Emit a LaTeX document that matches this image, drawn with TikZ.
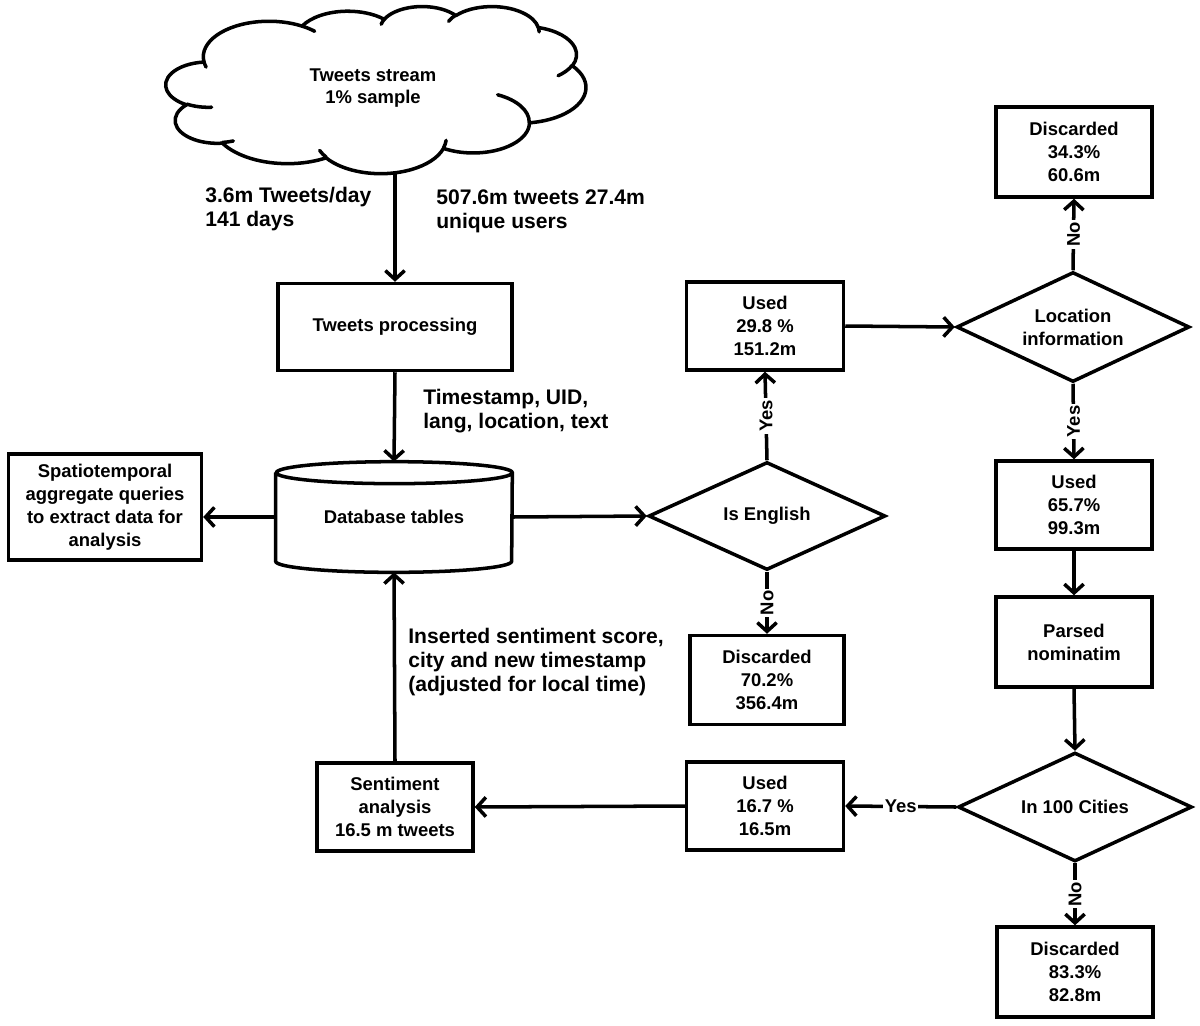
\documentclass[tikz,border=0pt]{standalone}
\usepackage{fontspec}
\setmainfont{Liberation Sans}
\usetikzlibrary{shapes.geometric,arrows.meta}
% convert a visual-angle elliptic arc (y down) into TikZ parametric angles (y up)
\newcommand\cprep[5]{%
  \pgfmathsetmacro\cta{atan2(#2*sin(#4),#3*cos(#4))}%
  \pgfmathsetmacro\ctb{atan2(#2*sin(#4+#5),#3*cos(#4+#5))}%
  \pgfmathsetmacro\ctd{\ctb-\cta}%
  \pgfmathsetmacro\ctd{\ctd<0 ? \ctd+360 : \ctd}%
  \pgfmathsetmacro\cta{-1*(\cta)}%
  \pgfmathsetmacro\ctd{-1*(\ctd)}%
  \expandafter\let\csname #1s\endcsname\cta
  \expandafter\let\csname #1d\endcsname\ctd}
\begin{document}
\begin{tikzpicture}[x=0.02cm,y=-0.02cm,
  box/.style={draw,line width=2pt,align=center,inner sep=1pt,font=\fontsize{10.5}{13}\bfseries\selectfont},
  dec/.style={draw,diamond,line width=2pt,inner sep=0pt},
  dectxt/.style={align=center,inner sep=0pt,font=\fontsize{10.5}{13}\bfseries\selectfont},
  lbl/.style={align=left,anchor=west,inner sep=0pt,font=\fontsize{12}{13.6}\bfseries\selectfont},
  yn/.style={fill=white,inner sep=1pt,font=\fontsize{10.5}{12}\bfseries\selectfont},
  conn/.style={line width=2pt},
  arr/.style={conn,-{Straight Barb[length=5pt,width=11pt,line width=2pt]}},
]
\useasboundingbox (0,0) rectangle (1200,1025);

% ---- cloud (outline + inner curls) ----
\cprep{oA}{67.53}{91.90}{-190.4875}{123.7805}
\cprep{oB}{53.33}{72.67}{-144.1024}{89.9452}
\cprep{oC}{43.65}{59.45}{-145.8079}{99.7230}
\cprep{oD}{48.57}{65.95}{-130.9861}{117.2417}
\cprep{oE}{53.33}{72.73}{-78.7089}{109.0269}
\cprep{oF}{67.75}{92.20}{-46.2673}{130.2690}
\cprep{oG}{57.85}{78.67}{0.6250}{114.0333}
\cprep{oH}{67.52}{92.15}{22.4516}{115.1726}
\cprep{oI}{77.20}{105.43}{66.2426}{75.7110}
\cprep{oJ}{43.60}{59.18}{-274.9421}{146.7356}
\cprep{oK}{43.45}{59.45}{-246.8285}{152.5189}
\cprep{kA}{43.45}{59.45}{86.742}{26.4295}
\cprep{kB}{43.60}{59.18}{73.6105}{11.4475}
\cprep{kC}{67.52}{92.15}{137.6242}{14.0811}
\cprep{kD}{67.52}{92.15}{6.4533}{15.9984}
\cprep{kE}{57.85}{78.67}{-70.2924}{70.9174}
\cprep{kF}{53.33}{72.73}{30.3180}{27.7515}
\cprep{kG}{48.57}{65.95}{-13.7443}{14.8589}
\cprep{kH}{48.57}{65.95}{-149.1815}{18.1954}
\cprep{kI}{43.65}{59.45}{-163.4943}{17.6864}
\cprep{kJ}{67.53}{91.90}{-66.7070}{12.3194}
\cprep{kK}{67.53}{91.90}{157.6544}{11.8582}
\begin{scope}[shift={(166,6)},x=0.019444cm,y=0.0077315cm,line width=2pt,line join=round,line cap=round]
  \draw (39.00,-143.70)
    arc[start angle=\oAs,delta angle=\oAd,x radius=67.53,y radius=91.90]
    arc[start angle=\oBs,delta angle=\oBd,x radius=53.33,y radius=72.67]
    arc[start angle=\oCs,delta angle=\oCd,x radius=43.65,y radius=59.45]
    arc[start angle=\oDs,delta angle=\oDd,x radius=48.57,y radius=65.95]
    arc[start angle=\oEs,delta angle=\oEd,x radius=53.33,y radius=72.73]
    arc[start angle=\oFs,delta angle=\oFd,x radius=67.75,y radius=92.20]
    arc[start angle=\oGs,delta angle=\oGd,x radius=57.85,y radius=78.67]
    arc[start angle=\oHs,delta angle=\oHd,x radius=67.52,y radius=92.15]
    arc[start angle=\oIs,delta angle=\oId,x radius=77.20,y radius=105.43]
    arc[start angle=\oJs,delta angle=\oJd,x radius=43.60,y radius=59.18]
    arc[start angle=\oKs,delta angle=\oKd,x radius=43.45,y radius=59.45]
    -- cycle;
  \draw (46.93,-261.77) arc[start angle=\kAs,delta angle=\kAd,x radius=43.45,y radius=59.45]
        (69.28,-348.99) arc[start angle=\kBs,delta angle=\kBd,x radius=43.60,y radius=59.18]
        (164.78,-390.90) arc[start angle=\kCs,delta angle=\kCd,x radius=67.52,y radius=92.15]
        (288.27,-347.51) arc[start angle=\kDs,delta angle=\kDd,x radius=67.52,y radius=92.15]
        (341.29,-229.54) arc[start angle=\kEs,delta angle=\kEd,x radius=57.85,y radius=78.67]
        (417.98,-153.54) arc[start angle=\kFs,delta angle=\kFd,x radius=53.33,y radius=72.73]
        (383.24,-54.26) arc[start angle=\kGs,delta angle=\kGd,x radius=48.57,y radius=65.95]
        (290.78,-39.52) arc[start angle=\kHs,delta angle=\kHd,x radius=48.57,y radius=65.95]
        (221.41,-47.20) arc[start angle=\kIs,delta angle=\kId,x radius=43.65,y radius=59.45]
        (140.00,-51.92) arc[start angle=\kJs,delta angle=\kJd,x radius=67.53,y radius=91.90]
        (41.27,-157.89) arc[start angle=\kKs,delta angle=\kKd,x radius=67.53,y radius=91.90];
\end{scope}
\node[dectxt] (cloud) at (373,88) {Tweets stream\\1\% sample};
\coordinate (cloudbot) at (395,171);

% ---- boxes ----
\node[box,minimum width=4.68cm,minimum height=1.74cm] (proc) at (395,327) {Tweets processing};
\node[minimum width=4.72cm,minimum height=2.2cm,inner sep=0pt,
  font=\fontsize{10.5}{13}\bfseries\selectfont] (db) at (394,517) {Database tables};
\draw[line width=2pt] ([yshift=-0.22cm]db.north west) -- ([yshift=0.22cm]db.south west)
  arc[start angle=180,end angle=360,x radius=2.36cm,y radius=0.22cm]
  -- ([yshift=-0.22cm]db.north east)
  arc[start angle=0,end angle=360,x radius=2.36cm,y radius=0.22cm];
\node[box,minimum width=3.86cm,minimum height=2.12cm] (spat) at (105,507)
  {Spatiotemporal\\aggregate queries\\to extract data for\\analysis};

\node[dec,minimum width=4.74cm,minimum height=2.16cm] (eng) at (767,516) {};
\node[dectxt] (engtxt) at (eng) {Is English};
\node[box,minimum width=3.08cm,minimum height=1.78cm] (disc1) at (767,680) {Discarded\\70.2\%\\356.4m};
\node[box,minimum width=3.14cm,minimum height=1.76cm] (used1) at (765,326) {Used\\29.8 \%\\151.2m};

\node[dec,minimum width=4.66cm,minimum height=2.2cm] (loc) at (1073,327) {};
\node[dectxt] (loctxt) at (loc) {Location\\information};
\node[box,minimum width=3.12cm,minimum height=1.8cm] (disc2) at (1074,152) {Discarded\\34.3\%\\60.6m};
\node[box,minimum width=3.12cm,minimum height=1.76cm] (used2) at (1074,505) {Used\\65.7\%\\99.3m};
\node[box,minimum width=3.12cm,minimum height=1.8cm] (parsed) at (1074,642) {Parsed\\nominatim};

\node[dec,minimum width=4.68cm,minimum height=2.18cm] (city) at (1075,807) {};
\node[dectxt] (citytxt) at (city) {In 100 Cities};
\node[box,minimum width=3.12cm,minimum height=1.8cm] (disc3) at (1075,972) {Discarded\\83.3\%\\82.8m};
\node[box,minimum width=3.14cm,minimum height=1.76cm] (used3) at (765,806) {Used\\16.7 \%\\16.5m};
\node[box,minimum width=3.12cm,minimum height=1.76cm] (sent) at (395,807) {Sentiment\\analysis\\16.5 m tweets};

% ---- free labels ----
\node[lbl] (l1) at (205,209) {3.6m Tweets/day\\141 days};
\node[lbl] (l2) at (436,211) {507.6m tweets 27.4m\\unique users};
\node[lbl] (l3) at (423,411) {Timestamp, UID,\\lang, location, text};
\node[lbl] (l4) at (408,662) {Inserted sentiment score,\\city and new timestamp\\(adjusted for local time)};

% ---- connectors ----
\draw[arr] (cloudbot) -- (proc.north);
\draw[arr] (proc.south) -- (db.north);
\draw[arr] (db.west) -- (db.west -| spat.east);
\draw[arr] (db.east) -- (eng.west);
\draw[arr] (eng.north) -- node[yn,rotate=90]{Yes} (used1.south);
\draw[arr] (eng.south) -- node[yn,rotate=90]{No} (disc1.north);
\draw[arr] (used1.east) -- (loc.west);
\draw[arr] (loc.north) -- node[yn,rotate=90]{No} (disc2.south);
\draw[arr] (loc.south) -- node[yn,rotate=90]{Yes} (used2.north);
\draw[arr] (used2.south) -- (parsed.north);
\draw[arr] (parsed.south) -- (city.north);
\draw[arr] (city.west) -- node[yn]{Yes} (used3.east);
\draw[arr] (city.south) -- node[yn,rotate=90]{No} (disc3.north);
\draw[arr] (used3.west) -- (sent.east);
\draw[arr] (sent.north) -- (db.south);
\end{tikzpicture}
\end{document}
